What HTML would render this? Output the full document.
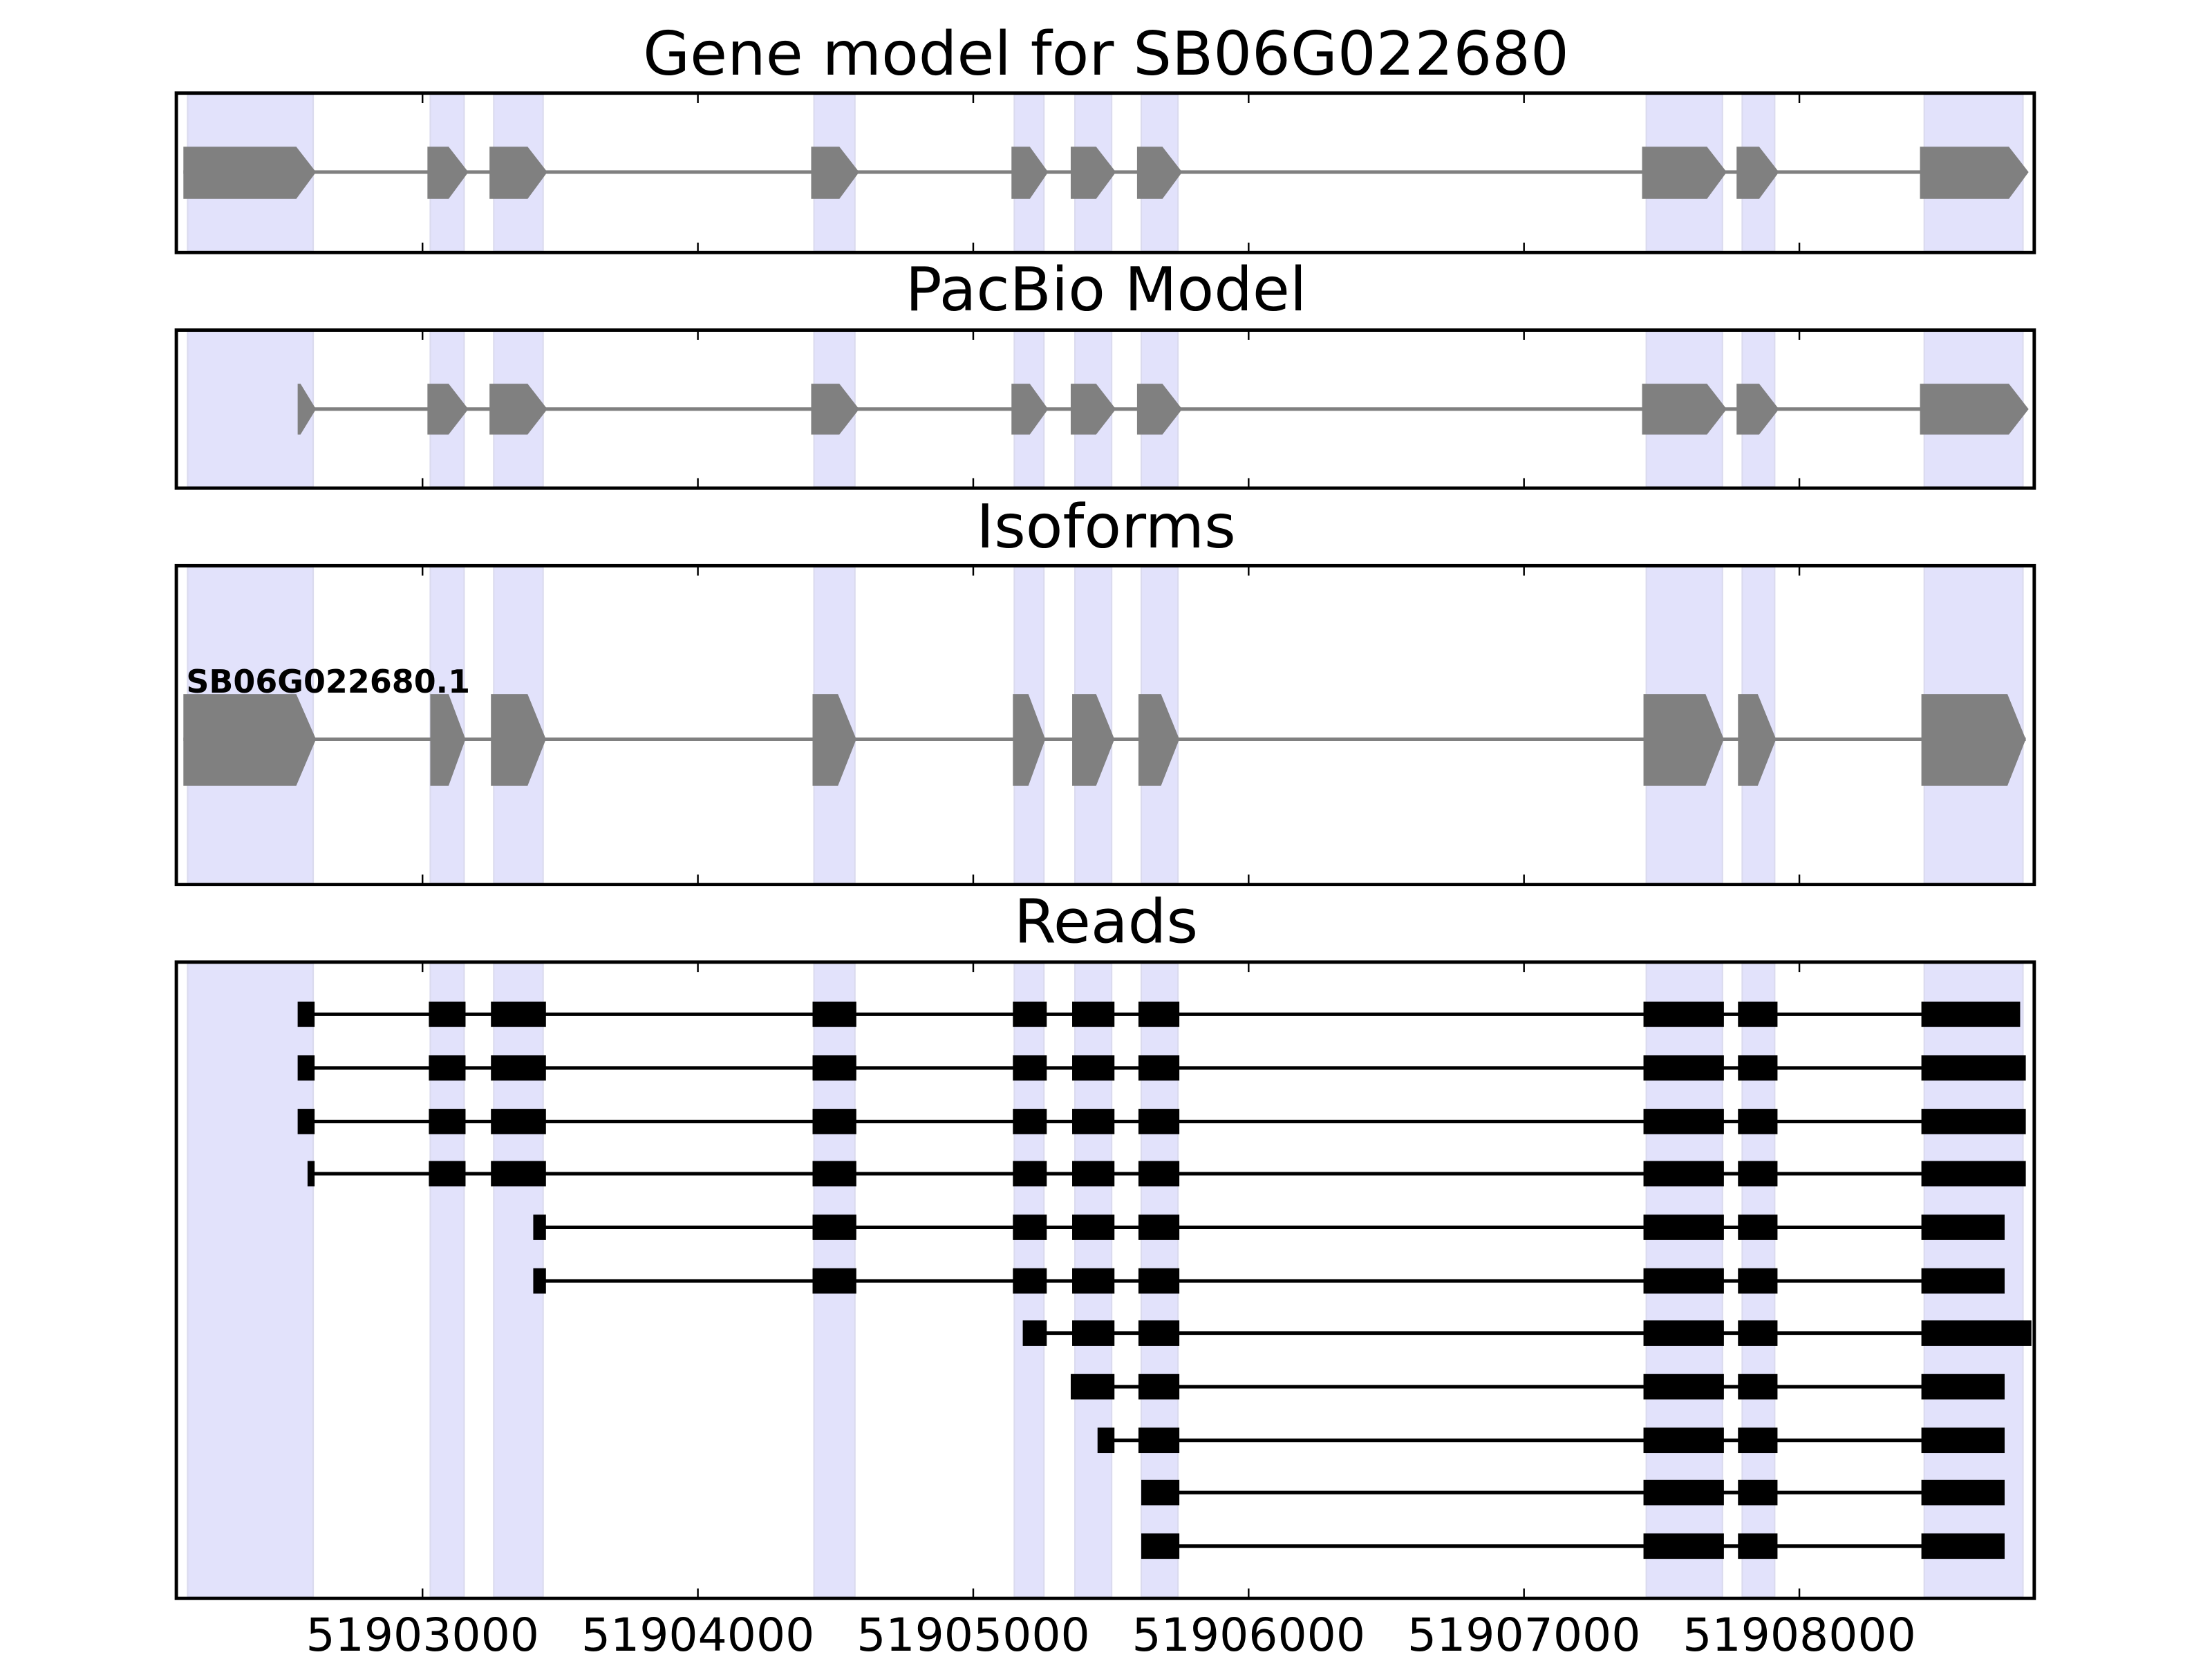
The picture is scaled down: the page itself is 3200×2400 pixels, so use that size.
<!DOCTYPE html>
<html><head><meta charset="utf-8"><style>html,body{margin:0;padding:0;background:#fff}svg{display:block}</style></head><body>
<svg xmlns="http://www.w3.org/2000/svg" width="3200" height="2400" viewBox="0 0 1568 1176">
<rect width="1568" height="1176" fill="#fff"/>
<g fill="#e2e2fb" stroke="#dadaee" stroke-width="1">
<rect x="133" y="67" width="89" height="111"/><rect x="305" y="67" width="24" height="111"/><rect x="350" y="67" width="35" height="111"/><rect x="577" y="67" width="29" height="111"/><rect x="719" y="67" width="21" height="111"/><rect x="762" y="67" width="26" height="111"/><rect x="809" y="67" width="26" height="111"/><rect x="1167" y="67" width="54" height="111"/><rect x="1235" y="67" width="23" height="111"/><rect x="1364" y="67" width="70" height="111"/>
<rect x="133" y="235" width="89" height="110"/><rect x="305" y="235" width="24" height="110"/><rect x="350" y="235" width="35" height="110"/><rect x="577" y="235" width="29" height="110"/><rect x="719" y="235" width="21" height="110"/><rect x="762" y="235" width="26" height="110"/><rect x="809" y="235" width="26" height="110"/><rect x="1167" y="235" width="54" height="110"/><rect x="1235" y="235" width="23" height="110"/><rect x="1364" y="235" width="70" height="110"/>
<rect x="133" y="402" width="89" height="224"/><rect x="305" y="402" width="24" height="224"/><rect x="350" y="402" width="35" height="224"/><rect x="577" y="402" width="29" height="224"/><rect x="719" y="402" width="21" height="224"/><rect x="762" y="402" width="26" height="224"/><rect x="809" y="402" width="26" height="224"/><rect x="1167" y="402" width="54" height="224"/><rect x="1235" y="402" width="23" height="224"/><rect x="1364" y="402" width="70" height="224"/>
<rect x="133" y="683" width="89" height="449"/><rect x="305" y="683" width="24" height="449"/><rect x="350" y="683" width="35" height="449"/><rect x="577" y="683" width="29" height="449"/><rect x="719" y="683" width="21" height="449"/><rect x="762" y="683" width="26" height="449"/><rect x="809" y="683" width="26" height="449"/><rect x="1167" y="683" width="54" height="449"/><rect x="1235" y="683" width="23" height="449"/><rect x="1364" y="683" width="70" height="449"/>
</g>
<g font-family="DejaVu Sans, Liberation Sans, sans-serif" font-size="43" text-anchor="middle" fill="#000">
<text x="784" y="53">Gene model for SB06G022680</text>
<text x="784" y="220">PacBio Model</text>
<text x="784" y="388">Isoforms</text>
<text x="784" y="668">Reads</text>
</g>
<g fill="#808080">
<line x1="130" y1="122" x2="1436" y2="122" stroke="#808080" stroke-width="2.5"/>
<polygon points="130,104 210,104 224,122 210,141 130,141"/>
<polygon points="303,104 318,104 332,122 318,141 303,141"/>
<polygon points="347,104 374,104 388,122 374,141 347,141"/>
<polygon points="575,104 595,104 609,122 595,141 575,141"/>
<polygon points="717,104 730,104 743,122 730,141 717,141"/>
<polygon points="759,104 777,104 791,122 777,141 759,141"/>
<polygon points="806,104 824,104 838,122 824,141 806,141"/>
<polygon points="1164,104 1210,104 1224,122 1210,141 1164,141"/>
<polygon points="1231,104 1247,104 1261,122 1247,141 1231,141"/>
<polygon points="1361,104 1424,104 1438,122 1424,141 1361,141"/>
</g>
<g fill="#808080">
<line x1="213" y1="290" x2="1436" y2="290" stroke="#808080" stroke-width="2.5"/>
<polygon points="211,272 213,272 224,290 213,308 211,308"/>
<polygon points="303,272 318,272 332,290 318,308 303,308"/>
<polygon points="347,272 374,272 388,290 374,308 347,308"/>
<polygon points="575,272 595,272 609,290 595,308 575,308"/>
<polygon points="717,272 730,272 743,290 730,308 717,308"/>
<polygon points="759,272 777,272 791,290 777,308 759,308"/>
<polygon points="806,272 824,272 838,290 824,308 806,308"/>
<polygon points="1164,272 1210,272 1224,290 1210,308 1164,308"/>
<polygon points="1231,272 1247,272 1261,290 1247,308 1231,308"/>
<polygon points="1361,272 1424,272 1438,290 1424,308 1361,308"/>
</g>
<g fill="#808080">
<line x1="130" y1="524" x2="1436" y2="524" stroke="#808080" stroke-width="2.5"/>
<polygon points="130,492 210,492 224,524 210,557 130,557"/>
<polygon points="305,492 318,492 330,524 318,557 305,557"/>
<polygon points="348,492 374,492 387,524 374,557 348,557"/>
<polygon points="576,492 594,492 607,524 594,557 576,557"/>
<polygon points="718,492 729,492 741,524 729,557 718,557"/>
<polygon points="760,492 777,492 790,524 777,557 760,557"/>
<polygon points="807,492 823,492 836,524 823,557 807,557"/>
<polygon points="1165,492 1209,492 1222,524 1209,557 1165,557"/>
<polygon points="1232,492 1246,492 1259,524 1246,557 1232,557"/>
<polygon points="1362,492 1423,492 1436,524 1423,557 1362,557"/>
</g>
<text x="132" y="491" font-family="DejaVu Sans, Liberation Sans, sans-serif" font-weight="bold" font-size="22.5" fill="#000">SB06G022680.1</text>
<g fill="#000" stroke="#000" stroke-width="2.5">
<line x1="212" y1="719" x2="1430" y2="719"/><line x1="212" y1="757" x2="1434" y2="757"/><line x1="212" y1="795" x2="1434" y2="795"/><line x1="219" y1="832" x2="1434" y2="832"/>
<line x1="379" y1="870" x2="1420" y2="870"/><line x1="379" y1="908" x2="1420" y2="908"/><line x1="726" y1="945" x2="1438" y2="945"/><line x1="760" y1="983" x2="1420" y2="983"/>
<line x1="779" y1="1021" x2="1420" y2="1021"/><line x1="810" y1="1058" x2="1420" y2="1058"/><line x1="810" y1="1096" x2="1420" y2="1096"/>
</g>
<g fill="#000">
<rect x="211" y="710" width="12" height="18"/><rect x="304" y="710" width="26" height="18"/><rect x="348" y="710" width="39" height="18"/><rect x="576" y="710" width="31" height="18"/><rect x="718" y="710" width="24" height="18"/><rect x="760" y="710" width="30" height="18"/><rect x="807" y="710" width="29" height="18"/><rect x="1165" y="710" width="57" height="18"/><rect x="1232" y="710" width="28" height="18"/><rect x="1362" y="710" width="70" height="18"/>
<rect x="211" y="748" width="12" height="18"/><rect x="211" y="786" width="12" height="18"/><rect x="218" y="823" width="5" height="18"/>
<rect x="378" y="861" width="9" height="18"/><rect x="378" y="899" width="9" height="18"/><rect x="725" y="936" width="17" height="18"/><rect x="778" y="1012" width="12" height="18"/>
<rect x="304" y="748" width="26" height="18"/><rect x="348" y="748" width="39" height="18"/><rect x="304" y="786" width="26" height="18"/><rect x="348" y="786" width="39" height="18"/><rect x="304" y="823" width="26" height="18"/><rect x="348" y="823" width="39" height="18"/>
<rect x="576" y="748" width="31" height="18"/><rect x="576" y="786" width="31" height="18"/><rect x="576" y="823" width="31" height="18"/><rect x="576" y="861" width="31" height="18"/><rect x="576" y="899" width="31" height="18"/>
<rect x="718" y="748" width="24" height="18"/><rect x="718" y="786" width="24" height="18"/><rect x="718" y="823" width="24" height="18"/><rect x="718" y="861" width="24" height="18"/><rect x="718" y="899" width="24" height="18"/>
<rect x="760" y="748" width="30" height="18"/><rect x="760" y="786" width="30" height="18"/><rect x="760" y="823" width="30" height="18"/><rect x="760" y="861" width="30" height="18"/><rect x="760" y="899" width="30" height="18"/><rect x="760" y="936" width="30" height="18"/><rect x="759" y="974" width="31" height="18"/>
<rect x="807" y="748" width="29" height="18"/><rect x="807" y="786" width="29" height="18"/><rect x="807" y="823" width="29" height="18"/><rect x="807" y="861" width="29" height="18"/><rect x="807" y="899" width="29" height="18"/><rect x="807" y="936" width="29" height="18"/><rect x="807" y="974" width="29" height="18"/><rect x="807" y="1012" width="29" height="18"/><rect x="809" y="1049" width="27" height="18"/><rect x="809" y="1087" width="27" height="18"/>
<rect x="1165" y="748" width="57" height="18"/><rect x="1165" y="786" width="57" height="18"/><rect x="1165" y="823" width="57" height="18"/><rect x="1165" y="861" width="57" height="18"/><rect x="1165" y="899" width="57" height="18"/><rect x="1165" y="936" width="57" height="18"/><rect x="1165" y="974" width="57" height="18"/><rect x="1165" y="1012" width="57" height="18"/><rect x="1165" y="1049" width="57" height="18"/><rect x="1165" y="1087" width="57" height="18"/>
<rect x="1232" y="748" width="28" height="18"/><rect x="1232" y="786" width="28" height="18"/><rect x="1232" y="823" width="28" height="18"/><rect x="1232" y="861" width="28" height="18"/><rect x="1232" y="899" width="28" height="18"/><rect x="1232" y="936" width="28" height="18"/><rect x="1232" y="974" width="28" height="18"/><rect x="1232" y="1012" width="28" height="18"/><rect x="1232" y="1049" width="28" height="18"/><rect x="1232" y="1087" width="28" height="18"/>
<rect x="1362" y="748" width="74" height="18"/><rect x="1362" y="786" width="74" height="18"/><rect x="1362" y="823" width="74" height="18"/><rect x="1362" y="861" width="59" height="18"/><rect x="1362" y="899" width="59" height="18"/><rect x="1362" y="936" width="78" height="18"/><rect x="1362" y="974" width="59" height="18"/><rect x="1362" y="1012" width="59" height="18"/><rect x="1362" y="1049" width="59" height="18"/><rect x="1362" y="1087" width="59" height="18"/>
</g>
<g fill="none" stroke="#000" stroke-width="2.4">
<rect x="125" y="66" width="1317" height="113"/>
<rect x="125" y="234" width="1317" height="112"/>
<rect x="125" y="401" width="1317" height="226"/>
<rect x="125" y="682" width="1317" height="451"/>
</g>
<g stroke="#000" stroke-width="1.2">
<path d="M299.5 66v7M494.7 66v7M689.9 66v7M885.1 66v7M1080.3 66v7M1275.5 66v7 M299.5 179v-7M494.7 179v-7M689.9 179v-7M885.1 179v-7M1080.3 179v-7M1275.5 179v-7"/>
<path d="M299.5 234v7M494.7 234v7M689.9 234v7M885.1 234v7M1080.3 234v7M1275.5 234v7 M299.5 346v-7M494.7 346v-7M689.9 346v-7M885.1 346v-7M1080.3 346v-7M1275.5 346v-7"/>
<path d="M299.5 401v7M494.7 401v7M689.9 401v7M885.1 401v7M1080.3 401v7M1275.5 401v7 M299.5 627v-7M494.7 627v-7M689.9 627v-7M885.1 627v-7M1080.3 627v-7M1275.5 627v-7"/>
<path d="M299.5 682v7M494.7 682v7M689.9 682v7M885.1 682v7M1080.3 682v7M1275.5 682v7 M299.5 1133v-7M494.7 1133v-7M689.9 1133v-7M885.1 1133v-7M1080.3 1133v-7M1275.5 1133v-7"/>
</g>
<g font-family="DejaVu Sans, Liberation Sans, sans-serif" font-size="32.5" text-anchor="middle" fill="#000">
<text x="299.5" y="1170">51903000</text><text x="494.7" y="1170">51904000</text><text x="689.9" y="1170">51905000</text><text x="885.1" y="1170">51906000</text><text x="1080.3" y="1170">51907000</text><text x="1275.5" y="1170">51908000</text>
</g>
</svg>
</body></html>
